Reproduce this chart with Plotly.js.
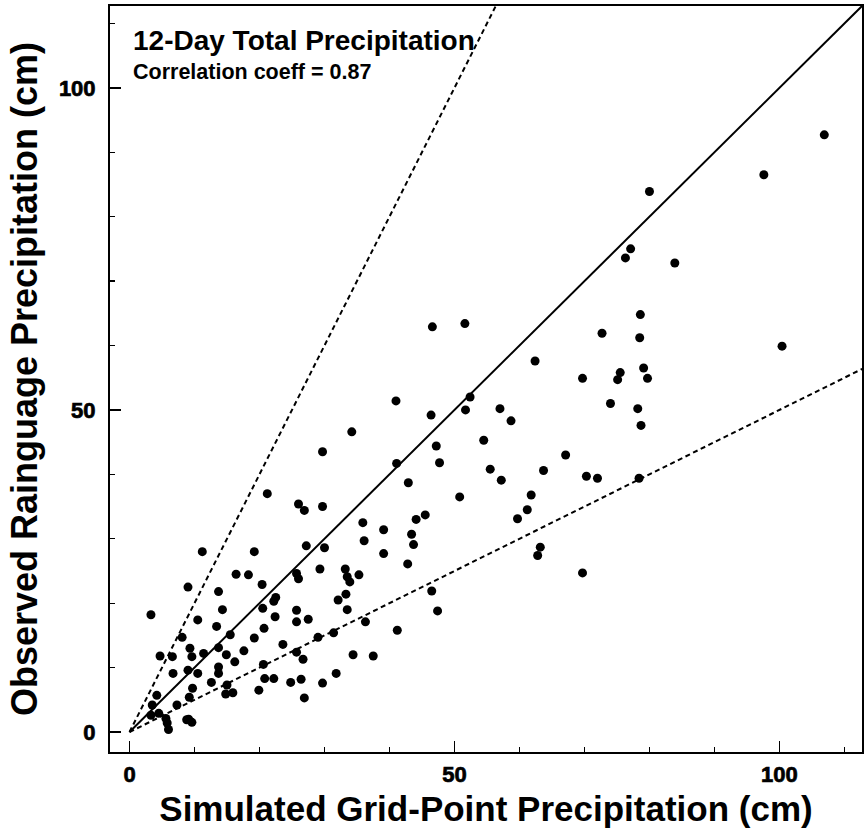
<!DOCTYPE html>
<html>
<head>
<meta charset="utf-8">
<script src="https://cdn.plot.ly/plotly-3.0.1.min.js"></script>
<style>
html,body{margin:0;padding:0;background:#fff;}
#chart{width:864px;height:836px;}
#chart .xtick text, #chart .ytick text { font-weight: 700 !important; stroke: #000; stroke-width: 0.7px; }
</style>
</head>
<body>
<div id="chart"></div>
<script>
// Simulated grid-point precipitation (cm)
const simX = [
  106.9, 97.6, 80.0, 77.1, 76.3, 83.9, 78.6, 72.7, 78.5, 100.4,
  75.5, 75.1, 79.1, 79.7, 74.0, 78.2, 78.7, 62.4, 69.7, 46.6,
  51.6, 52.4, 51.7, 46.4, 57.0, 58.7, 54.5, 47.2, 47.7, 55.5,
  57.2, 63.7, 67.1, 70.3, 72.0, 78.4, 50.8, 61.8, 61.2, 59.7,
  63.2, 62.8, 69.7, 46.5, 41.0, 34.2, 29.7, 41.1, 42.9, 21.2,
  26.0, 26.9, 29.7, 35.9, 39.1, 44.1, 45.5, 43.4, 43.7, 36.1,
  39.1, 42.8, 27.2, 30.0, 19.2, 11.2, 29.3, 16.4, 18.3, 25.7,
  33.2, 35.3, 33.5, 33.9, 26.0, 33.3, 32.1, 33.5, 27.5, 36.3,
  47.4, 41.2, 29.0, 31.4, 25.7, 26.7, 34.4, 37.5, 26.4, 29.7,
  31.8, 26.9, 24.8, 9.0, 13.7, 20.4, 22.5, 22.2, 14.3, 3.3,
  10.5, 20.5, 25.7, 25.7, 22.4, 13.4, 20.7, 8.1, 15.5, 19.2,
  9.3, 13.7, 9.6, 11.4, 14.9, 17.6, 23.6, 4.7, 6.6, 16.2,
  6.7, 9.0, 10.5, 13.7, 13.7, 20.6, 12.6, 15.0, 14.8, 15.9,
  19.9, 20.8, 22.2, 9.7, 9.2, 4.2, 7.3, 3.5, 3.3, 4.5,
  5.6, 5.8, 6.0, 9.1, 9.6, 8.8
];
// Observed raingauge precipitation (cm)
const obsY = [
  92.7, 86.5, 83.9, 75.0, 73.6, 72.8, 64.8, 61.9, 61.2, 59.9,
  55.8, 54.7, 56.5, 54.9, 51.0, 50.2, 47.6, 57.6, 54.9, 62.9,
  63.4, 52.0, 50.0, 49.2, 50.2, 48.3, 45.3, 44.4, 41.8, 40.8,
  39.1, 40.6, 43.0, 39.7, 39.4, 39.4, 36.5, 36.8, 34.5, 33.1,
  28.7, 27.4, 24.7, 21.9, 51.4, 46.6, 43.5, 41.7, 38.7, 37.0,
  35.4, 34.4, 35.0, 32.5, 31.4, 33.0, 33.7, 30.7, 29.1, 29.7,
  27.7, 26.1, 28.9, 28.6, 28.0, 28.0, 25.3, 24.5, 24.4, 24.6,
  25.3, 24.4, 24.1, 23.3, 23.8, 21.4, 20.5, 19.0, 17.5, 17.1,
  18.8, 15.8, 14.7, 15.4, 12.4, 11.3, 12.0, 11.8, 8.2, 7.6,
  9.1, 5.3, 7.7, 22.5, 21.8, 22.9, 20.9, 20.3, 19.0, 18.2,
  17.4, 19.2, 18.9, 17.1, 17.9, 16.4, 16.1, 14.7, 15.1, 14.6,
  13.0, 13.1, 11.7, 12.2, 12.0, 12.6, 13.6, 11.8, 11.7, 10.9,
  9.1, 9.6, 9.1, 10.1, 9.1, 10.5, 7.7, 7.3, 5.9, 6.1,
  6.5, 8.3, 8.3, 6.8, 5.4, 5.7, 4.2, 4.2, 2.6, 2.9,
  2.1, 1.4, 0.4, 2.0, 1.5, 1.9
];
// Reference lines through the origin: 1:1 (solid), 2:1 and 1:2 (dashed)
const refSlopes = [1, 2, 0.5];
const refDash = ['solid', 'dash', 'dash'];
const refX = [0, 120];
const tickVals = [0, 50, 100];
const tickText = ['0', '50', '100'];

const FONT = 'Liberation Sans, Arial, Helvetica, sans-serif';

const traces = [];
refSlopes.forEach((s, i) => {
  traces.push({
    type: 'scatter', mode: 'lines',
    x: refX, y: refX.map(v => v * s),
    line: {color: '#000', width: 2, dash: refDash[i] === 'dash' ? '5px,3.5px' : 'solid'},
    hoverinfo: 'skip', showlegend: false
  });
});
traces.push({
  type: 'scatter', mode: 'markers',
  x: simX, y: obsY,
  marker: {color: '#000', size: 9, line: {width: 0}},
  showlegend: false
});

const axisCommon = {
  showgrid: false, zeroline: false,
  showline: true, linecolor: '#000', linewidth: 2, mirror: true,
  ticks: 'inside', ticklen: 11, tickwidth: 1.5, tickcolor: '#000',
  tickmode: 'array', tickvals: tickVals, ticktext: tickText,
  tickfont: {family: FONT, size: 22, color: '#000', weight: 'bold'},
  minor: {ticks: 'inside', dtick: 10, ticklen: 5, tickwidth: 1.2, tickcolor: '#000', showgrid: false},
  automargin: false
};

const layout = {
  width: 864, height: 836,
  margin: {l: 110, r: 2, t: 6, b: 84},
  paper_bgcolor: '#fff', plot_bgcolor: '#fff',
  showlegend: false,
  xaxis: Object.assign({}, axisCommon, {
    range: [-3.0, 112.7],
    ticklabelstandoff: 2,
    title: {text: '<b>Simulated Grid-Point Precipitation (cm)</b>', standoff: 10,
            font: {family: FONT, size: 35, color: '#000', weight: 700}}
  }),
  yaxis: Object.assign({}, axisCommon, {
    range: [-3.1, 112.7],
    ticklabelstandoff: 8,
    title: {text: '<b>Observed Rainguage Precipitation (cm)</b>', standoff: 10,
            font: {family: FONT, size: 36, color: '#000', weight: 700}}
  }),
  annotations: [
    {xref: 'paper', yref: 'paper', x: 0.028, y: 0.954, xanchor: 'left', yanchor: 'middle',
     text: '<b>12-Day Total Precipitation</b>', showarrow: false,
     font: {family: FONT, size: 28, color: '#000', weight: 700}},
    {xref: 'paper', yref: 'paper', x: 0.028, y: 0.911, xanchor: 'left', yanchor: 'middle',
     text: '<b>Correlation coeff = 0.87</b>', showarrow: false,
     font: {family: FONT, size: 21.5, color: '#000', weight: 700}}
  ]
};

Plotly.newPlot('chart', traces, layout, {displayModeBar: false, staticPlot: true});
</script>
</body>
</html>
